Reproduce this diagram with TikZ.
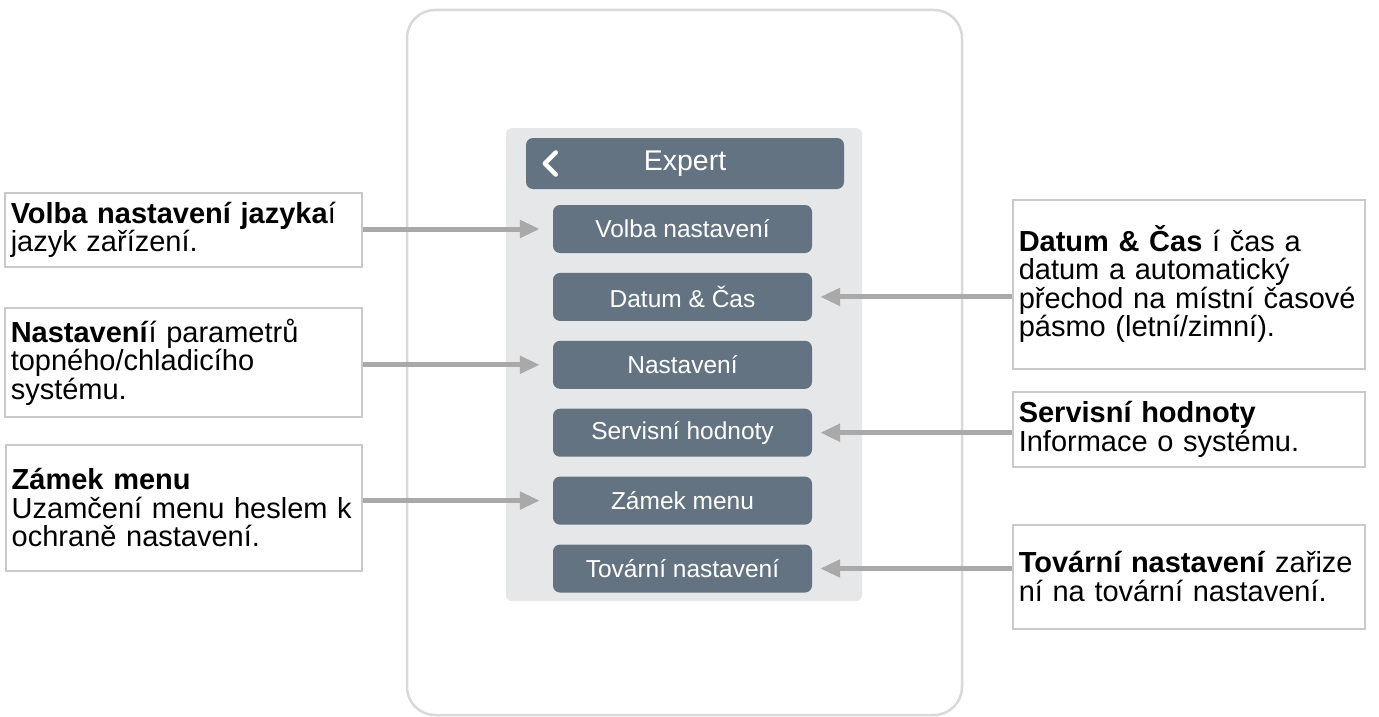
\documentclass[tikz,border=0pt]{standalone}
\usepackage{fontspec}
\setmainfont{Liberation Sans}
\usetikzlibrary{positioning}
\usetikzlibrary{arrows.meta}
\definecolor{slate}{HTML}{637382}
\definecolor{panelgray}{HTML}{E6E7E8}
\definecolor{pointergray}{HTML}{A9A9A9}
\definecolor{boxline}{HTML}{C9C9C9}

\begin{document}
\begin{tikzpicture}[x=1pt, y=-1pt,
	menubtn/.style={fill=slate, rounded corners=7pt, minimum width=259pt, minimum height=48pt,
		inner sep=0pt, text=white, font=\fontsize{24.5}{28}\selectfont},
	infobox/.style={draw=boxline, line width=1.5pt, fill=white, align=left, anchor=north west,
		inner xsep=6pt, inner ysep=0pt, font=\fontsize{29}{28.5}\selectfont},
	pointer/.style={draw=pointergray, line width=5pt, -{Triangle[length=20pt, width=17pt]}}]
	\useasboundingbox (0,0) rectangle (1379,717);
	% device and menu panel
	\draw[gray!30, line width=2.5pt, fill=white, rounded corners=28pt] (407,10) rectangle (962,715);
	\fill[panelgray, rounded corners=6pt] (506,128) rectangle (862,601);
	\node[menubtn, minimum width=318pt, minimum height=51pt, font=\fontsize{28.5}{32}\selectfont] (hdr) at (685,163.5) {Expert};
	\draw[white, line width=4.5pt, line cap=round, line join=round] ([shift={(30pt,11pt)}]hdr.west) -- ++(-11pt,-11pt) -- ++(11pt,-11pt);
	% menu buttons
	\node[menubtn] (btn1) at (682.5,229) {Volba nastavení};
	\node[menubtn, below=19.5pt of btn1] (btn2) {Datum \& Čas};
	\node[menubtn, below=19.5pt of btn2] (btn3) {Nastavení};
	\node[menubtn, below=19.5pt of btn3] (btn4) {Servisní hodnoty};
	\node[menubtn, below=19.5pt of btn4] (btn5) {Zámek menu};
	\node[menubtn, below=19.5pt of btn5] (btn6) {Tovární nastavení};
	% left notes
	\node[infobox, text width=345pt, minimum height=74pt] (volba) at (4,192) {\textbf{Volba nastavení jazyka}í\\jazyk zařízení.};
	\node[infobox, text width=345pt, minimum height=109pt] (nast) at (4,307) {\textbf{Nastavení}í parametrů\\topného/chladicího\\systému.};
	\node[infobox, text width=344pt, minimum height=126pt] (zamek) at (5,444) {\textbf{Zámek menu}\\Uzamčení menu heslem k\\ochraně nastavení.};
	% right notes
	\node[infobox, text width=340pt, minimum height=169pt] (datum) at (1012,199) {\textbf{Datum \& Čas} í čas a\\datum a automatický\\přechod na místní časové\\pásmo (letní/zimní).};
	\node[infobox, text width=340pt, minimum height=75pt] (servis) at (1012,391) {\textbf{Servisní hodnoty}\\Informace o systému.};
	\node[infobox, text width=340pt, minimum height=104pt] (tovar) at (1012,524) {\textbf{Tovární nastavení} zařize\\ní na tovární nastavení.};
	% pointers
	\draw[pointer] (volba.east |- btn1) -- ([xshift=-13pt]btn1.west);
	\draw[pointer] (nast.east |- btn3) -- ([xshift=-13pt]btn3.west);
	\draw[pointer] (zamek.east |- btn5) -- ([xshift=-13pt]btn5.west);
	\draw[pointer] (datum.west |- btn2) -- ([xshift=8pt]btn2.east);
	\draw[pointer] (servis.west |- btn4) -- ([xshift=8pt]btn4.east);
	\draw[pointer] (tovar.west |- btn6) -- ([xshift=8pt]btn6.east);
\end{tikzpicture}
\end{document}
